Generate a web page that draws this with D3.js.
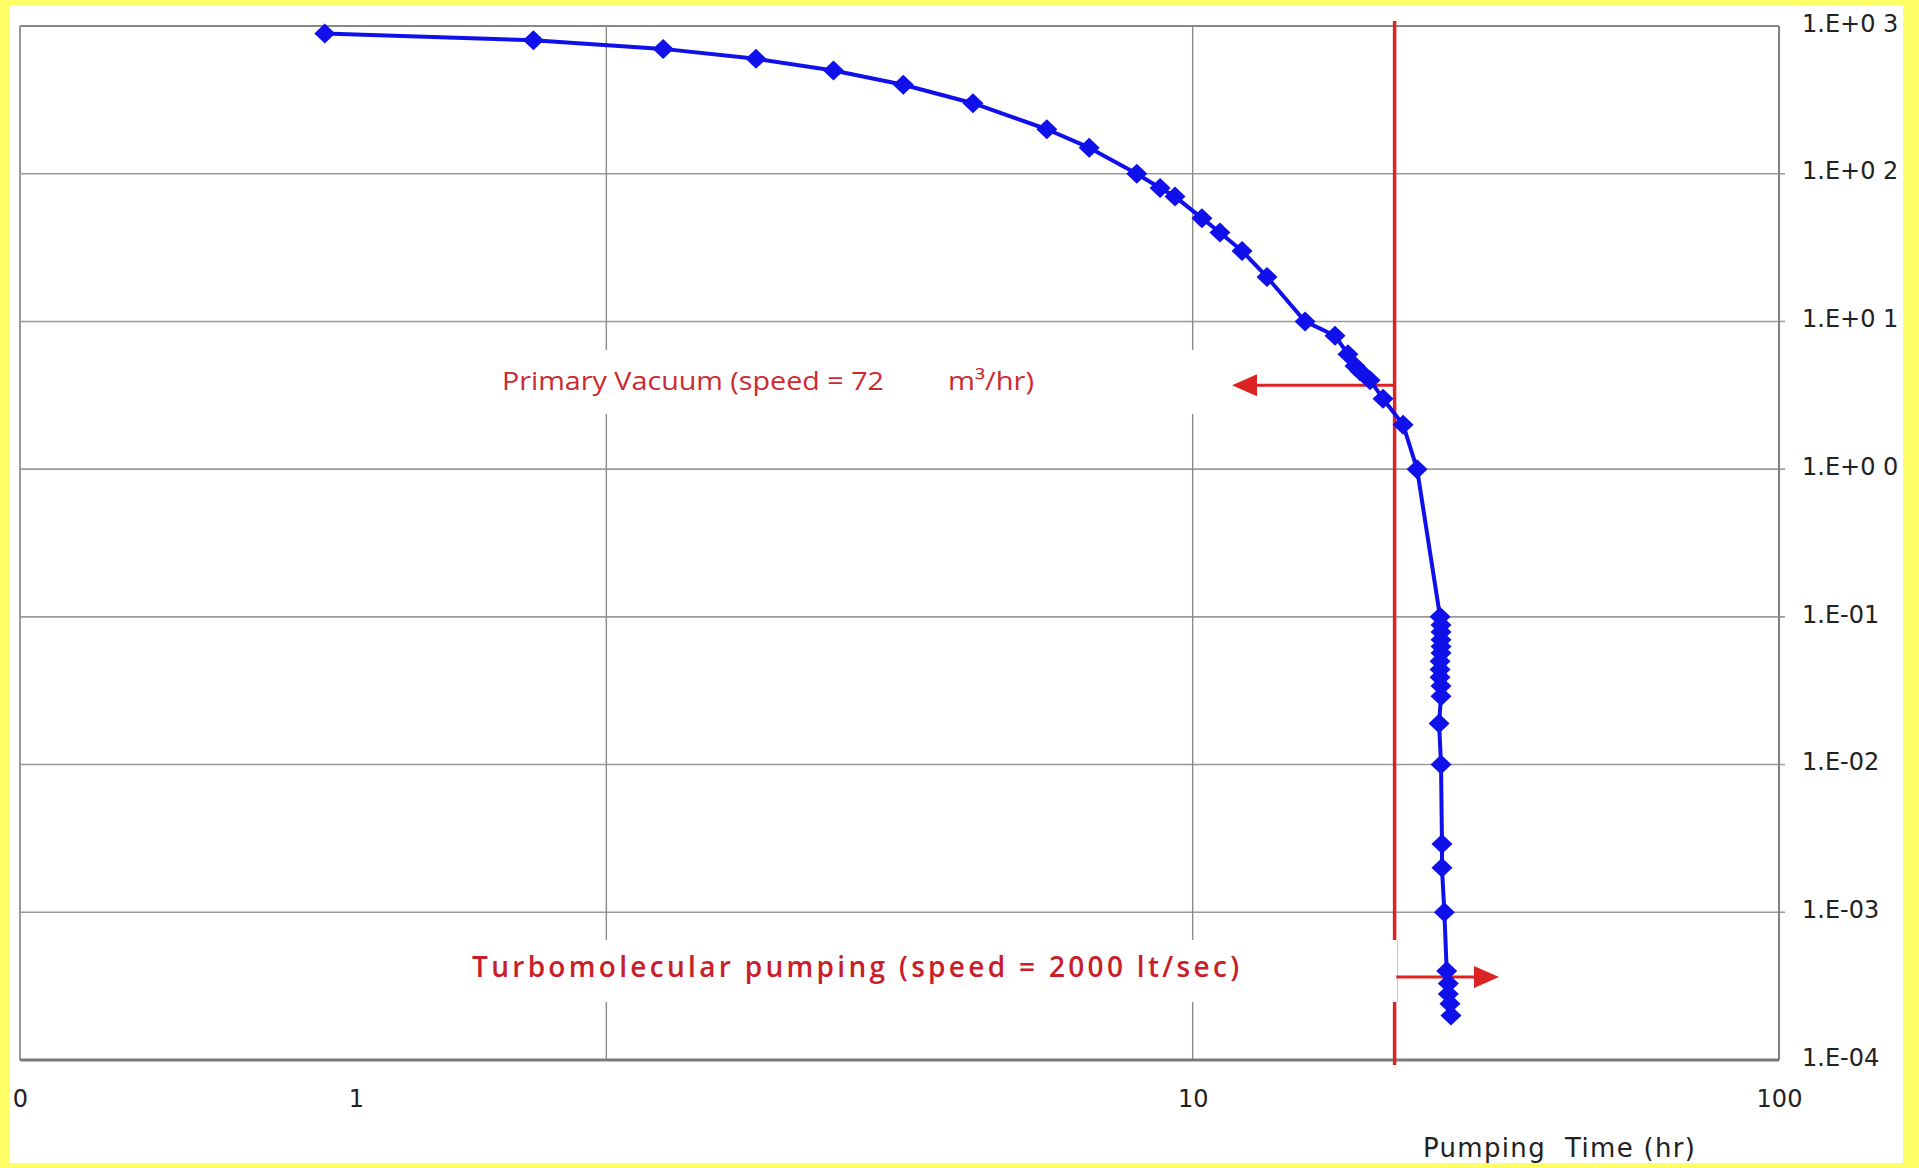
<!DOCTYPE html>
<html>
<head>
<meta charset="utf-8">
<script src="https://cdn.jsdelivr.net/npm/d3@7"></script>
<style>
  html, body { margin: 0; padding: 0; background: #ffff66; }
  svg { display: block; }
</style>
</head>
<body>
<svg id="chart" width="1919" height="1168"></svg>
<script>
// ---------------- DATA ----------------
const pumpingTime = [
  0.331, 0.751, 1.25, 1.80, 2.44, 3.21, 4.22, 5.64, 6.66, 8.03,
  8.80, 9.33, 10.37, 11.13, 12.14, 13.39, 15.55, 17.49, 18.40, 18.92,
  19.29, 20.07, 21.12, 22.85, 24.14,
  26.42, 26.52, 26.52, 26.52, 26.52, 26.52, 26.42, 26.42, 26.42, 26.52,
  26.52, 26.32, 26.52, 26.62, 26.62, 26.87, 27.12, 27.29, 27.29, 27.47, 27.58
];
const pressure = [
  890, 800, 700, 600, 500, 400, 300, 200, 150, 100,
  80, 70, 50, 40, 30, 20, 10, 8, 6, 5,
  4.6, 4, 3, 2, 1,
  0.1, 0.088, 0.079, 0.07, 0.063, 0.057, 0.05, 0.044, 0.039, 0.034,
  0.029, 0.019, 0.01, 0.0029, 0.002, 0.001, 0.0004, 0.00033, 0.00028, 0.00024, 0.0002
];
const xTickValues = [0.1, 0.374, 10, 100];
const xTickLabels = ["0", "1", "10", "100"];
const xGridValues = [1, 10];
const yTickValues = [1e3, 1e2, 1e1, 1, 1e-1, 1e-2, 1e-3, 1e-4];
const yTickLabels = ["1.E+0 3", "1.E+0 2", "1.E+0 1", "1.E+0 0", "1.E-01", "1.E-02", "1.E-03", "1.E-04"];
const switchTime = 22.1;           // red vertical line (change of pumping system)
const primaryArrow = {y: 3.7, from: 22.1, to: 11.67};
const turboArrow = {y: 0.000364, from: 22.25, to: 33.3};
const primaryText = ["Primary Vacuum (speed = 72", "m\u00B3/hr)"];
const turboText = "Turbomolecular pumping (speed = 2000 lt/sec)";
const xAxisTitle = "Pumping  Time (hr)";

// ---------------- LAYOUT ----------------
const svg = d3.select("#chart");
const L = 20, R = 1779, T = 26, B = 1060;

svg.append("rect").attr("x", 10).attr("y", 5).attr("width", 1893).attr("height", 1158).attr("fill", "#ffffff");

const x = d3.scaleLog().domain([0.1, 100]).range([L, R]);
const y = d3.scaleLog().domain([1e-4, 1e3]).range([B, T]);

// gridlines
const g = svg.append("g");
g.selectAll("line.hg").data(yTickValues.slice(1, -1)).join("line")
  .attr("x1", L).attr("x2", R + 6).attr("y1", d => y(d)).attr("y2", d => y(d))
  .attr("stroke", "#9a9a9a").attr("stroke-width", 1.6);
g.selectAll("line.vg").data(xGridValues).join("line")
  .attr("x1", d => x(d)).attr("x2", d => x(d)).attr("y1", T).attr("y2", B)
  .attr("stroke", "#8a8a8a").attr("stroke-width", 1.4);

// frame
g.append("line").attr("x1", L).attr("x2", R).attr("y1", T).attr("y2", T).attr("stroke", "#888").attr("stroke-width", 2.2);
g.append("line").attr("x1", L).attr("x2", L).attr("y1", T).attr("y2", B).attr("stroke", "#999").attr("stroke-width", 2);
g.append("line").attr("x1", R).attr("x2", R).attr("y1", T).attr("y2", B).attr("stroke", "#808080").attr("stroke-width", 2);
g.append("line").attr("x1", L).attr("x2", R).attr("y1", B).attr("y2", B).attr("stroke", "#7a7a7a").attr("stroke-width", 3);

// y axis labels (right side)
const yAxis = d3.axisRight(y).tickValues(yTickValues)
  .tickFormat((d, i) => yTickLabels[i]).tickSize(0).tickPadding(23);
const ya = svg.append("g").attr("transform", `translate(${R},0)`).call(yAxis);
ya.select(".domain").remove();
ya.selectAll("text").attr("font-family", "DejaVu Sans").attr("font-size", 24)
  .attr("fill", "#222").attr("dy", "0.22em");

// x axis labels
const xAxis = d3.axisBottom(x).tickValues(xTickValues)
  .tickFormat((d, i) => xTickLabels[i]).tickSize(0).tickPadding(0);
const xa = svg.append("g").attr("transform", `translate(0,${B})`).call(xAxis);
xa.select(".domain").remove();
xa.selectAll("text").attr("font-family", "DejaVu Sans").attr("font-size", 24)
  .attr("fill", "#222").attr("y", 39).attr("dy", "0.35em");

svg.append("text").attr("x", 1423).attr("y", 1148).attr("dy", "0.35em")
  .attr("font-family", "DejaVu Sans").attr("font-size", 26).attr("fill", "#222")
  .attr("textLength", 272).attr("lengthAdjust", "spacing")
  .attr("xml:space", "preserve").style("white-space", "pre")
  .text(xAxisTitle);

// annotation boxes (white backgrounds)
svg.append("rect").attr("x", 488).attr("y", 350).attr("width", 722).attr("height", 64).attr("fill", "#fff");
svg.append("rect").attr("x", 455).attr("y", 940).attr("width", 942).attr("height", 62).attr("fill", "#fff");

// red vertical line (split around turbo box)
const red = "#dd2424";
const xs = x(switchTime);
svg.append("line").attr("x1", xs).attr("x2", xs).attr("y1", T - 5).attr("y2", 940)
  .attr("stroke", red).attr("stroke-width", 3.5);
svg.append("line").attr("x1", xs).attr("x2", xs).attr("y1", 1002).attr("y2", B + 5)
  .attr("stroke", red).attr("stroke-width", 3.5);
svg.append("line").attr("x1", xs + 3).attr("x2", xs + 3).attr("y1", 940).attr("y2", 1002)
  .attr("stroke", "#c8c8c8").attr("stroke-width", 1);

// arrows
function arrow(a, dir) {
  const yy = y(a.y), x0 = x(a.from), x1 = x(a.to);
  const base = x1 - dir * 25;
  svg.append("line").attr("x1", x0).attr("x2", base).attr("y1", yy).attr("y2", yy)
    .attr("stroke", red).attr("stroke-width", 3);
  svg.append("path")
    .attr("d", `M${x1},${yy} L${base},${yy - 11} L${base},${yy + 11} Z`)
    .attr("fill", red);
}
arrow(primaryArrow, -1);
arrow(turboArrow, 1);

// annotation texts
svg.append("text").attr("x", 502).attr("y", 381).attr("dy", "0.35em")
  .attr("font-family", "Open Sans").attr("font-size", 26).attr("fill", "#cc2a30")
  .attr("textLength", 382).attr("lengthAdjust", "spacingAndGlyphs")
  .text(primaryText[0]);
svg.append("text").attr("x", 948).attr("y", 381).attr("dy", "0.35em")
  .attr("font-family", "Open Sans").attr("font-size", 26).attr("fill", "#cc2a30")
  .attr("textLength", 86).attr("lengthAdjust", "spacingAndGlyphs")
  .text(primaryText[1]);
svg.append("text").attr("x", 472).attr("y", 967).attr("dy", "0.35em")
  .attr("font-family", "Open Sans").attr("font-size", 28).attr("font-weight", 600)
  .attr("fill", "#c8202a")
  .attr("textLength", 767).attr("lengthAdjust", "spacing")
  .text(turboText);

// data line + markers
const blue = "#1010ea";
const pts = pumpingTime.map((t, i) => [t, pressure[i]]);
const line = d3.line().x(d => x(d[0])).y(d => y(d[1]));
svg.append("path").datum(pts).attr("d", line).attr("fill", "none")
  .attr("stroke", blue).attr("stroke-width", 4).attr("stroke-linejoin", "round");
svg.selectAll("path.mk").data(pts).join("path").attr("class", "mk")
  .attr("transform", d => `translate(${x(d[0])},${y(d[1])})`)
  .attr("d", "M0,-10 L10.5,0 L0,10 L-10.5,0 Z")
  .attr("fill", blue);
</script>
</body>
</html>
